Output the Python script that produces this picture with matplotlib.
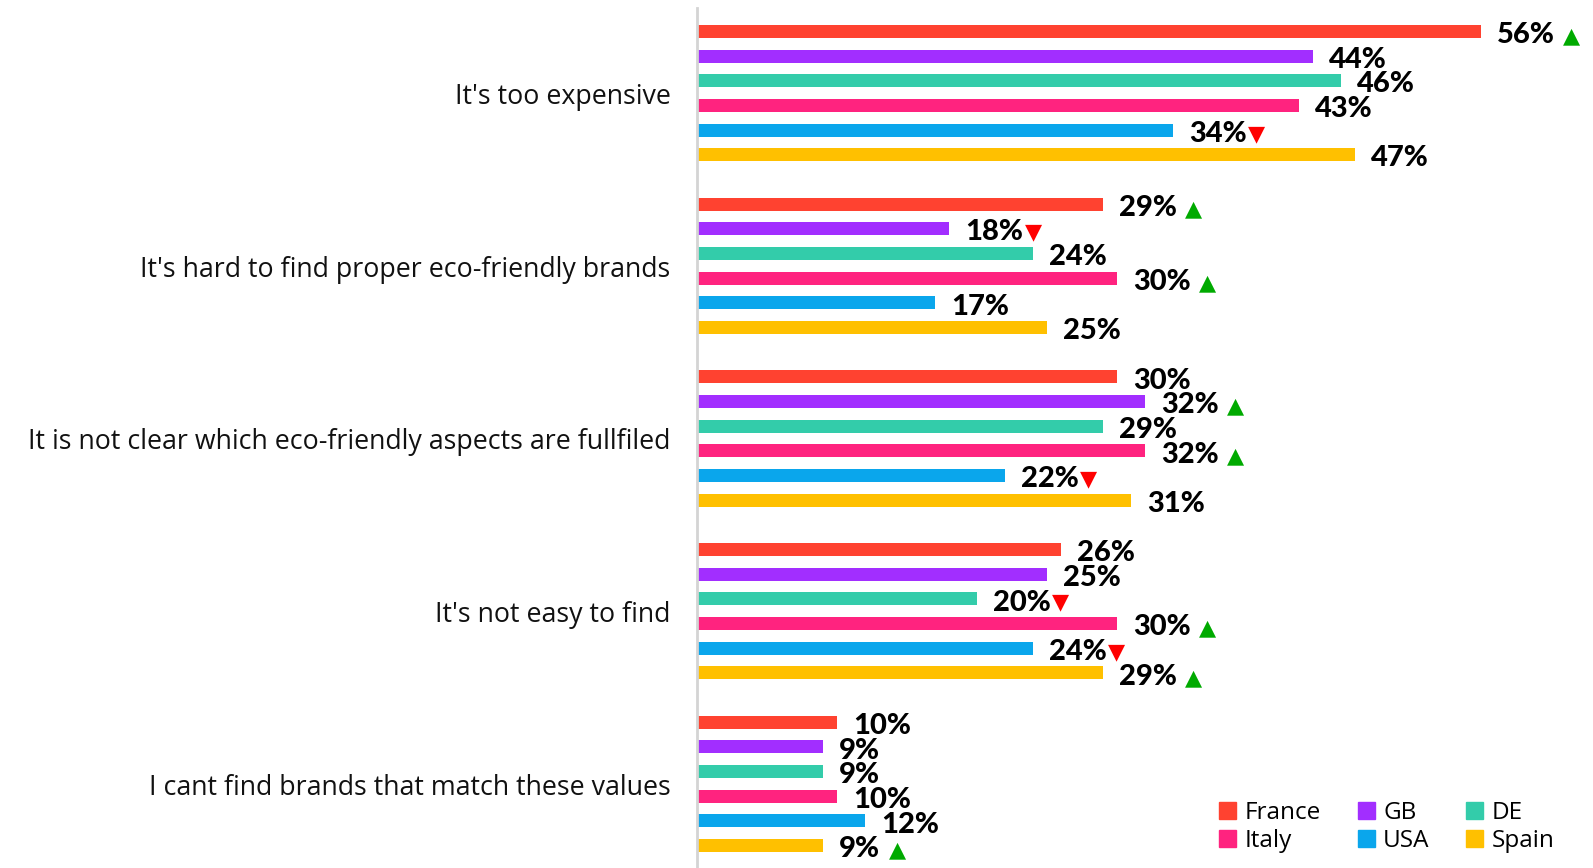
import matplotlib.pyplot as plt
from matplotlib.patches import Patch

# motivi e valori per paese (percentuali)
motivi = [
    "It's too expensive",
    "It's hard to find proper eco-friendly brands",
    "It is not clear which eco-friendly aspects are fullfiled",
    "It's not easy to find",
    "I cant find brands that match these values",
]
paesi = ["France", "GB", "DE", "Italy", "USA", "Spain"]
colori = ["#FF4230", "#A22EFF", "#33CCAA", "#FF237F", "#0AA6EC", "#FFC000"]

france = [56, 29, 30, 26, 10]
gb = [44, 18, 32, 25, 9]
de = [46, 24, 29, 20, 9]
italy = [43, 30, 32, 30, 10]
usa = [34, 17, 22, 24, 12]
spain = [47, 25, 31, 29, 9]

# variazioni significative: "su", "giu" oppure None
freccia_france = ["su", "su", None, None, None]
freccia_gb = [None, "giu", "su", None, None]
freccia_de = [None, None, None, "giu", None]
freccia_italy = [None, "su", "su", "su", None]
freccia_usa = ["giu", None, "giu", "giu", None]
freccia_spain = [None, None, None, "su", "su"]

serie = [france, gb, de, italy, usa, spain]
frecce = [freccia_france, freccia_gb, freccia_de, freccia_italy, freccia_usa, freccia_spain]

fig = plt.figure(figsize=(15.93, 8.68), dpi=100)
ax = fig.add_axes([697 / 1593, 0, 1 - 697 / 1593, 1 - 8 / 868])

passo = 7  # 6 barre + uno spazio vuoto per ogni gruppo
for g, motivo in enumerate(motivi):
    for s in range(len(paesi)):
        y = g * passo + s
        valore = serie[s][g]
        ax.barh(y, valore, height=0.53, color=colori[s])
        t = ax.text(valore + 1.15, y + 0.15, f"{valore}%", ha="left", va="center",
                    fontsize=21, fontweight="black", family="Lato", color="black",
                    clip_on=False)
        f = frecce[s][g]
        if f == "su":
            ax.annotate("▲", xy=(1, 0.45), xycoords=t, xytext=(6, 0), textcoords="offset points",
                        ha="left", va="center", fontsize=16, color="#00AA00",
                        family="DejaVu Sans", annotation_clip=False)
        elif f == "giu":
            ax.annotate("▼", xy=(1, 0.5), xycoords=t, xytext=(1, 0), textcoords="offset points",
                        ha="left", va="center", fontsize=16, color="#FF0000",
                        family="DejaVu Sans", annotation_clip=False)
    # etichetta del motivo centrata sul gruppo
    ax.text(-1.9, g * passo + 2.65, motivo, ha="right", va="center",
            fontsize=19.3, family="Open Sans", color="#111111")

ax.set_xlim(0, 64)
ax.set_ylim(33.91, -0.95)
ax.set_xticks([])
ax.set_yticks([])
for lato in ["top", "right", "bottom"]:
    ax.spines[lato].set_visible(False)
ax.spines["left"].set_color("#D4D4D4")
ax.spines["left"].set_linewidth(2)

# legenda in basso a destra (riempita per colonne)
ordine = [0, 3, 1, 4, 2, 5]
maniglie = [Patch(color=colori[i], label=paesi[i]) for i in ordine]
fig.legend(handles=maniglie, ncol=3, loc="lower right", bbox_to_anchor=(0.985, 0.0),
           frameon=False, prop={"family": "Open Sans", "size": 17.5},
           handlelength=0.7, handleheight=0.7, handletextpad=0.35,
           columnspacing=1.5, labelspacing=0.2, borderaxespad=0.2)

fig.savefig("out.png", dpi=100)
